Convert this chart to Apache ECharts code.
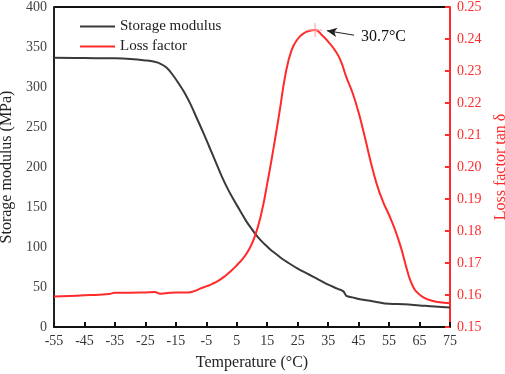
<!DOCTYPE html>
<html>
<head>
<meta charset="utf-8">
<script src="https://cdn.jsdelivr.net/npm/echarts@6/dist/echarts.min.js"></script>
<style>
  html, body { margin: 0; padding: 0; background: #fff; }
  #chart { width: 505px; height: 374px; }
</style>
</head>
<body>
<div id="chart"></div>
<script>
// storage modulus (MPa) vs temperature
var storageTemp = [-55, -45, -35, -30, -25, -22, -20, -18, -16, -14, -12, -10, -8, -6, -4, -2, 0, 2, 4, 6, 8, 10, 12, 14, 16, 18, 20, 22, 25, 28, 30, 32, 35, 38, 40, 41, 43, 45, 50, 55, 60, 65, 70, 75];
var storage = [336.6, 336.2, 335.8, 335, 333.2, 331.5, 329, 324, 315, 304, 292, 277, 260, 243, 225, 207, 189, 173, 159, 146, 133, 122, 112, 104, 97, 91, 85, 80, 73, 67, 63, 59, 53, 48, 44.5, 39, 37, 35, 32, 29, 28.5, 27, 25.5, 24.5];

// loss factor tan delta vs temperature
var lossTemp = [-55, -50, -45, -40, -37, -35, -30, -25, -22, -20, -17, -15, -11, -9, -7, -5, -3, -1, 1, 3, 5, 7, 9, 11, 13, 15, 17, 19, 21, 23, 25, 27, 29, 30.7, 33, 35, 37, 39, 41, 43, 45, 47, 49, 51, 53, 55, 57, 59, 60, 61, 62, 63, 64, 66, 68, 71, 75];
var loss = [0.1595, 0.1597, 0.1599, 0.1601, 0.1603, 0.1607, 0.1607, 0.1608, 0.1609, 0.1604, 0.1607, 0.1608, 0.1608, 0.1612, 0.1620, 0.1627, 0.1635, 0.1645, 0.1658, 0.1674, 0.1693, 0.1714, 0.1742, 0.1785, 0.1852, 0.1948, 0.2055, 0.2170, 0.2290, 0.2365, 0.2400, 0.2418, 0.2426, 0.2428, 0.2412, 0.2392, 0.2368, 0.2335, 0.2280, 0.2232, 0.2170, 0.2095, 0.2015, 0.1945, 0.1892, 0.1850, 0.1803, 0.1745, 0.1710, 0.1675, 0.1645, 0.1624, 0.1610, 0.1594, 0.1585, 0.1578, 0.1574];

var peakTemp = 30.7;
var peakLoss = 0.2428;

var fontFam = '"Liberation Serif", "Times New Roman", serif';
var red = '#ff2b2b';

function pairs(xs, ys) {
    var out = [];
    for (var i = 0; i < xs.length; i++) out.push([xs[i], ys[i]]);
    return out;
}

var chart = echarts.init(document.getElementById('chart'));
var option = {
    animation: false,
    textStyle: { fontFamily: fontFam },
    grid: { left: 54, right: 55, top: 7, bottom: 47, containLabel: false, outerBoundsMode: 'none' },
    legend: {
        orient: 'vertical',
        left: 75, top: 14,
        itemWidth: 35, itemHeight: 12, itemGap: 5,
        icon: 'path://M0,5 L35,5 L35,7 L0,7 Z',
        textStyle: { fontFamily: fontFam, fontSize: 15, color: '#222' },
        data: ['Storage modulus', 'Loss factor']
    },
    xAxis: {
        type: 'value',
        min: -55, max: 75, interval: 10,
        name: 'Temperature (\u00b0C)',
        nameLocation: 'middle', nameGap: 28,
        nameTextStyle: { fontFamily: fontFam, fontSize: 16, color: '#222' },
        axisLine: { lineStyle: { color: '#111', width: 2 } },
        axisTick: { inside: true, length: 5, lineStyle: { color: '#111', width: 2 } },
        axisLabel: { fontFamily: fontFam, fontSize: 14, color: '#333', margin: 7 },
        splitLine: { show: false }
    },
    yAxis: [{
        type: 'value',
        min: 0, max: 400, interval: 50,
        name: 'Storage modulus (MPa)',
        nameLocation: 'middle', nameGap: 35,
        nameTextStyle: { fontFamily: fontFam, fontSize: 16, color: '#222' },
        axisLine: { show: true, onZero: false, lineStyle: { color: '#222', width: 2 } },
        axisTick: { show: false },
        axisLabel: { fontFamily: fontFam, fontSize: 14, color: '#444', margin: 7 },
        splitLine: { show: false }
    }, {
        type: 'value',
        position: 'right',
        min: 0.15, max: 0.25, interval: 0.01,
        name: 'Loss factor tan \u03b4',
        nameLocation: 'middle', nameGap: 40, nameRotate: 90,
        nameTextStyle: { fontFamily: fontFam, fontSize: 16, color: red },
        axisLine: { show: true, onZero: false, lineStyle: { color: red, width: 2 } },
        axisTick: { inside: true, length: 5, lineStyle: { color: red, width: 2 } },
        axisLabel: {
            fontFamily: fontFam, fontSize: 14, color: red, margin: 7,
            formatter: function (v) { return v.toFixed(2); }
        },
        splitLine: { show: false }
    }],
    graphic: [{
        type: 'line',
        shape: { x1: 54, y1: 7, x2: 450, y2: 7 },
        style: { stroke: '#111', lineWidth: 2 }
    }],
    series: [{
        name: 'Storage modulus',
        type: 'line',
        yAxisIndex: 0,
        data: pairs(storageTemp, storage),
        smooth: 0.4,
        showSymbol: false,
        lineStyle: { color: '#3a3a3a', width: 2 },
        itemStyle: { color: '#3a3a3a' }
    }, {
        name: 'Loss factor',
        type: 'line',
        yAxisIndex: 1,
        data: pairs(lossTemp, loss),
        smooth: 0.5,
        showSymbol: false,
        lineStyle: { color: red, width: 2 },
        itemStyle: { color: red },
        markPoint: {
            symbol: 'path://M5,0 L5,10 M0,5 L10,5',
            symbolSize: 14,
            itemStyle: { color: 'none', borderColor: '#ff9a9a', borderWidth: 1 },
            label: { show: false },
            data: [{ coord: [peakTemp, peakLoss] }]
        },
        markLine: {
            silent: true,
            symbol: ['none', 'arrow'],
            symbolSize: [7, 10],
            lineStyle: { color: '#222', width: 1, type: 'solid' },
            label: {
                show: true, position: 'start',
                formatter: peakTemp + '\u00b0C',
                fontFamily: fontFam, fontSize: 16, color: '#111', distance: 7
            },
            data: [[{ coord: [43.5, 0.2412] }, { coord: [34.6, 0.2426] }]]
        }
    }]
};
chart.setOption(option);
</script>
</body>
</html>
